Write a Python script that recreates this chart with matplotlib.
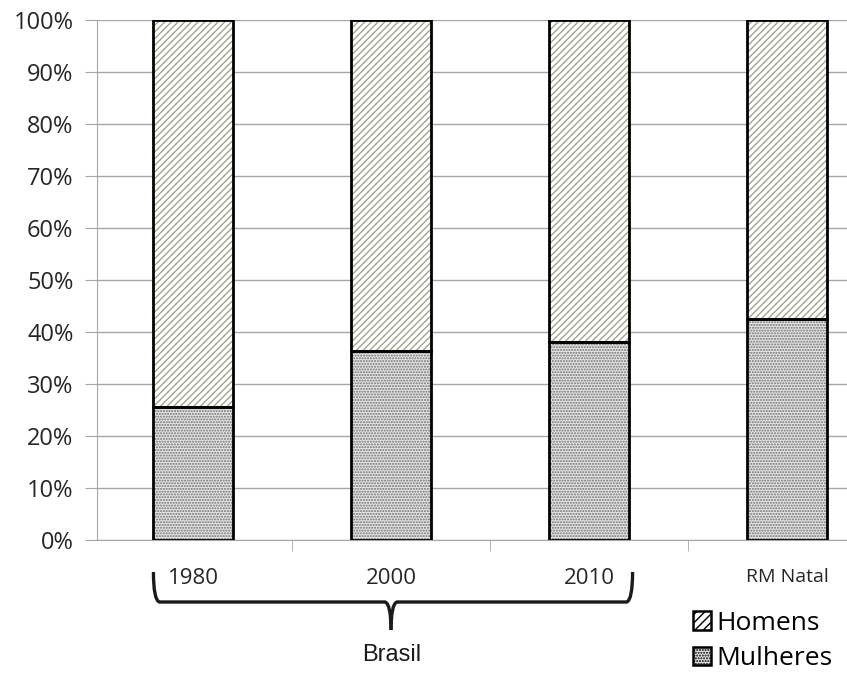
import matplotlib.pyplot as plt
from matplotlib.patches import Patch
from matplotlib.path import Path
from matplotlib.patches import PathPatch
import matplotlib.transforms as mtransforms
import numpy as np

categories = ['1980', '2000', '2010', 'RM Natal']
mulheres = [25.6, 36.3, 38.1, 42.5]
homens = [100 - v for v in mulheres]

plt.rcParams['font.family'] = ['Open Sans', 'DejaVu Sans']
plt.rcParams['hatch.linewidth'] = 1.0

fig = plt.figure(figsize=(8.47, 6.73), dpi=100)
W, H = 847, 673
# axis spans 97..889 px (right part cut by the figure edge)
ax = fig.add_axes([97 / W, (673 - 540) / H, (889 - 97) / W, 520 / H])

x = np.arange(len(categories))
bw = 0.405
grid_c = '#a6a6a6'
dot_c, dot_h = '#6e6e6e', '......'
line_c, line_h = '#a3a38e', '/////'

# fills with grey hatches, then black outlines
ax.bar(x, mulheres, bw, color='#e6e6e6', edgecolor=dot_c, hatch=dot_h, linewidth=0, zorder=2)
ax.bar(x, homens, bw, bottom=mulheres, color='white', edgecolor=line_c, hatch=line_h, linewidth=0, zorder=2)
ax.bar(x, mulheres, bw, fill=False, edgecolor='black', linewidth=2, zorder=3)
ax.bar(x, homens, bw, bottom=mulheres, fill=False, edgecolor='black', linewidth=2, zorder=3)

ax.set_ylim(0, 100)
ax.set_xlim(-0.485, 3.515)
ax.set_yticks(np.arange(0, 101, 10))
ax.set_yticklabels([f'{v}%' for v in range(0, 101, 10)], fontsize=17, color='#262626')
ax.yaxis.grid(True, color=grid_c, linewidth=1)
ax.set_axisbelow(True)
ax.tick_params(axis='y', length=9, color=grid_c, pad=8)

ax.set_xticks(x)
ax.set_xticklabels(categories, fontsize=16, color='#262626')
ax.tick_params(axis='x', which='major', length=0, pad=20)
ax.set_xticks([0.5, 1.5, 2.5], minor=True)
ax.tick_params(axis='x', which='minor', length=8, color=grid_c)
for lab in ax.get_xticklabels():
    if lab.get_text() == 'RM Natal':
        lab.set_fontsize(14)

for s in ['top', 'right']:
    ax.spines[s].set_visible(False)
for s in ['left', 'bottom']:
    ax.spines[s].set_color(grid_c)

# brace under Brasil years (x in data, y in pixels from bottom of figure)
trans = mtransforms.blended_transform_factory(ax.transData, fig.dpi_scale_trans)
def py(p):
    return (673 - p) / 100.0
x0, x1, xm = -0.2, 2.22, 1.0
verts = [(x0, py(572)), (x0, py(600)), (x0 + 0.03, py(602)), (xm - 0.03, py(602)),
         (xm, py(604)), (xm, py(630))]
brace = Path(verts, [Path.MOVETO, Path.CURVE3, Path.CURVE3, Path.LINETO, Path.CURVE3, Path.CURVE3])
verts2 = [(x1, py(572)), (x1, py(600)), (x1 - 0.03, py(602)), (xm + 0.03, py(602)),
          (xm, py(604)), (xm, py(630))]
brace2 = Path(verts2, [Path.MOVETO, Path.CURVE3, Path.CURVE3, Path.LINETO, Path.CURVE3, Path.CURVE3])
for b in (brace, brace2):
    ax.add_patch(PathPatch(b, fill=False, edgecolor='#1a1a1a', linewidth=2.4,
                           transform=trans, clip_on=False))
fig.text(392 / W, (673 - 655) / H, 'Brasil', ha='center', va='center', fontsize=17,
         family=['Liberation Sans', 'DejaVu Sans'], color='#1a1a1a')

handles = [Patch(facecolor='white', edgecolor=line_c, hatch='////', linewidth=0),
           Patch(facecolor='#e6e6e6', edgecolor=dot_c, hatch=dot_h, linewidth=0)]
leg = fig.legend(handles, ['Homens', 'Mulheres'], loc='center left',
                 bbox_to_anchor=(693 / W, (673 - 641) / H), frameon=False,
                 borderpad=0, borderaxespad=0,
                 fontsize=19, handlelength=0.7, handleheight=0.7, handletextpad=0.2,
                 labelspacing=0.4)
for h in leg.legend_handles:
    h.set_edgecolor('black')
    h.set_linewidth(1.8)

fig.savefig('out.png', dpi=100)
